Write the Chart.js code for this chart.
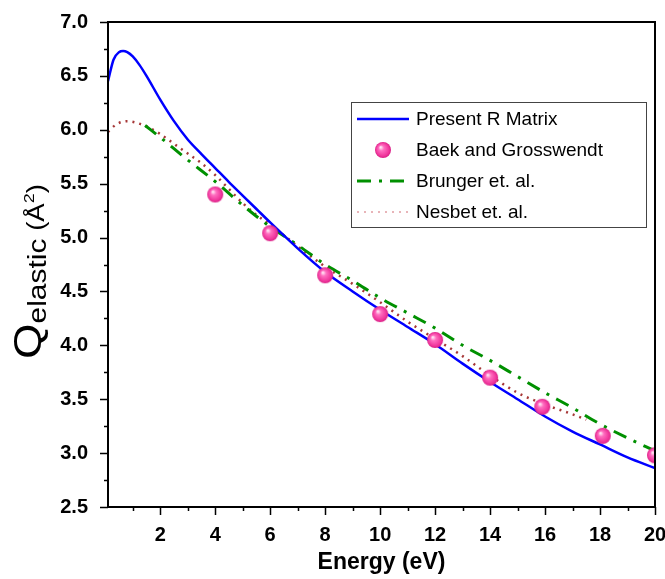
<!DOCTYPE html>
<html>
<head>
<meta charset="utf-8">
<script src="https://cdn.jsdelivr.net/npm/chart.js@4/dist/chart.umd.min.js"></script>
<style>
  body { margin: 0; background: #fff; }
  canvas { display: block; }
</style>
</head>
<body>
<canvas id="myChart" width="665" height="579"></canvas>
<script>
const ctx = document.getElementById('myChart');

// Present R Matrix (solid blue)
const rmatX = [0.1, 0.3, 0.5, 0.65, 0.8, 1.0, 1.25, 1.5, 2.0, 2.5, 3.0, 3.5, 4.0, 4.5, 5.0, 5.5, 6.0, 7, 8, 9, 10, 11, 12, 13, 14, 15, 16, 17, 18, 19, 20];
const rmatY = [6.45, 6.65, 6.72, 6.73, 6.72, 6.68, 6.6, 6.5, 6.28, 6.08, 5.91, 5.775, 5.645, 5.515, 5.39, 5.265, 5.14, 4.9, 4.68, 4.5, 4.33, 4.17, 4.01, 3.83, 3.66, 3.5, 3.34, 3.2, 3.08, 2.96, 2.86];

// Baek and Grosswendt (points)
const baekX = [4, 6, 8, 10, 12, 14, 15.9, 18.1, 20];
const baekY = [5.40, 5.04, 4.65, 4.29, 4.05, 3.70, 3.43, 3.16, 2.98];

// Brunger et. al. (dash dot)
const brungerX = [1.45, 2, 3, 4, 5, 6, 7, 8, 9, 10, 11, 12, 13, 14, 15, 16, 17, 18, 19, 20];
const brungerY = [6.04, 5.93, 5.72, 5.52, 5.3, 5.1, 4.93, 4.75, 4.6, 4.44, 4.3, 4.16, 4.0, 3.86, 3.71, 3.56, 3.42, 3.27, 3.14, 3.02];

// Nesbet et. al. (dotted)
const nesbetX = [0.1, 0.4, 0.8, 1.2, 1.6, 2.0, 2.5, 3.0, 3.5, 4.0, 4.5, 5.0, 5.5, 6, 7, 8, 9, 10, 11, 12, 13, 14, 15, 16, 17, 17.5];
const nesbetY = [5.98, 6.05, 6.08, 6.06, 6.02, 5.96, 5.87, 5.78, 5.69, 5.58, 5.45, 5.32, 5.21, 5.12, 4.92, 4.73, 4.57, 4.4, 4.22, 4.06, 3.9, 3.72, 3.56, 3.45, 3.36, 3.31];

const xTicks = [2, 4, 6, 8, 10, 12, 14, 16, 18, 20];
const yTicks = [2.5, 3.0, 3.5, 4.0, 4.5, 5.0, 5.5, 6.0, 6.5, 7.0];

function pts(xs, ys) { return xs.map((x, i) => ({ x: x, y: ys[i] })); }

// shiny pink ball
function makeBall(r) {
  const c = document.createElement('canvas');
  c.width = c.height = r * 2 + 2;
  const g = c.getContext('2d');
  const cx = r + 1, cy = r + 1;
  const grad = g.createRadialGradient(cx - r * 0.3, cy - r * 0.35, 0.5, cx, cy, r);
  grad.addColorStop(0, '#ffe6f4');
  grad.addColorStop(0.3, '#ff6ec0');
  grad.addColorStop(0.8, '#f0369c');
  grad.addColorStop(1, '#d81f85');
  g.fillStyle = grad;
  g.beginPath();
  g.arc(cx, cy, r, 0, Math.PI * 2);
  g.fill();
  return c;
}
const ball = makeBall(8);

const legendItems = [
  { label: 'Present R Matrix', kind: 'line', color: '#0000ff', dash: [] , width: 2.5},
  { label: 'Baek and Grosswendt', kind: 'ball' },
  { label: 'Brunger et. al.', kind: 'line', color: '#009000', dash: [14, 8, 3, 8], width: 3 },
  { label: 'Nesbet et. al.', kind: 'line', color: '#e8b4b8', dash: [2, 5], width: 2 }
];

const FONT = '"Liberation Sans", Arial, sans-serif';

const decor = {
  id: 'decor',
  afterDraw(chart) {
    const c = chart.ctx;
    const a = chart.chartArea;
    const xs = chart.scales.x, ys = chart.scales.y;
    c.save();
    c.strokeStyle = '#000';
    c.lineWidth = 2;
    c.strokeRect(a.left, a.top, a.right - a.left, a.bottom - a.top);
    c.lineWidth = 1.5;
    c.beginPath();
    for (let v = 1; v <= 20; v++) {
      const p = Math.round(xs.getPixelForValue(v)) + 0.5;
      const len = v % 2 === 0 ? 8 : 4;
      c.moveTo(p, a.bottom);
      c.lineTo(p, a.bottom + len);
    }
    for (let k = 0; k <= 18; k++) {
      const v = 2.5 + k * 0.25;
      const p = Math.round(ys.getPixelForValue(v)) + 0.5;
      const len = k % 2 === 0 ? 8 : 4;
      c.moveTo(a.left, p);
      c.lineTo(a.left - len, p);
    }
    c.stroke();

    // y title
    c.fillStyle = '#000';
    c.translate(41, 359);
    c.rotate(-Math.PI / 2);
    c.scale(1.2, 1);
    c.textBaseline = 'alphabetic';
    c.textAlign = 'left';
    let x = 0;
    c.font = '38px ' + FONT;
    c.fillText('Q', x, 0);
    x += c.measureText('Q').width;
    c.font = '25px ' + FONT;
    c.fillText('elastic', x, 5);
    x += c.measureText('elastic').width;
    c.font = '23px ' + FONT;
    c.fillText(' (Å', x, 3);
    x += c.measureText(' (Å').width;
    c.font = '15px ' + FONT;
    c.fillText('2', x, -7);
    x += c.measureText('2').width;
    c.font = '23px ' + FONT;
    c.fillText(')', x, 3);
    c.restore();

    // legend
    c.save();
    c.fillStyle = '#fff';
    c.fillRect(351, 102, 295, 125);
    c.strokeStyle = '#444';
    c.lineWidth = 1;
    c.strokeRect(351.5, 102.5, 295, 125);
    c.font = '19px ' + FONT;
    c.textBaseline = 'middle';
    c.fillStyle = '#000';
    legendItems.forEach((it, i) => {
      const y = 119 + i * 31;
      if (it.kind === 'ball') {
        c.drawImage(ball, 383 - ball.width / 2, y - ball.height / 2);
      } else {
        c.strokeStyle = it.color;
        c.lineWidth = it.width;
        c.setLineDash(it.dash);
        c.beginPath();
        c.moveTo(357, y);
        c.lineTo(409, y);
        c.stroke();
        c.setLineDash([]);
      }
      c.fillText(it.label, 416, y + 1);
    });
    c.restore();
  }
};

const myChart = new Chart(ctx, {
  type: 'line',
  data: {
    datasets: [
      {
        label: 'Baek and Grosswendt',
        data: pts(baekX, baekY),
        showLine: false,
        pointStyle: ball,
        order: 0
      },
      {
        label: 'Present R Matrix',
        data: pts(rmatX, rmatY),
        borderColor: '#0000ff',
        borderWidth: 2.5,
        pointRadius: 0,
        cubicInterpolationMode: 'monotone',
        order: 1
      },
      {
        label: 'Brunger et. al.',
        data: pts(brungerX, brungerY),
        borderColor: '#009000',
        borderWidth: 3,
        borderDash: [14, 8, 3, 8],
        pointRadius: 0,
        cubicInterpolationMode: 'monotone',
        order: 2
      },
      {
        label: 'Nesbet et. al.',
        data: pts(nesbetX, nesbetY),
        borderColor: 'rgba(150, 20, 20, 0.85)',
        borderWidth: 2.5,
        borderDash: [2, 5],
        pointRadius: 0,
        cubicInterpolationMode: 'monotone',
        order: 3
      }
    ]
  },
  options: {
    responsive: false,
    animation: false,
    layout: { padding: { left: 0, right: 10, top: 22, bottom: 0 } },
    plugins: { legend: { display: false }, tooltip: { enabled: false } },
    scales: {
      x: {
        type: 'linear',
        min: 0.1,
        max: 20,
        afterBuildTicks(scale) { scale.ticks = xTicks.map(v => ({ value: v })); },
        afterFit(scale) { scale.height = 72; scale.paddingRight = 0; scale.paddingLeft = 0; },
        grid: { display: false },
        border: { display: false },
        ticks: {
          padding: 8,
          color: '#000',
          font: { family: FONT, size: 20, weight: 'bold' },
          maxRotation: 0
        },
        title: {
          display: true,
          text: 'Energy (eV)',
          color: '#000',
          font: { family: FONT, size: 23, weight: 'bold' },
          padding: { top: 0, bottom: 3 }
        }
      },
      y: {
        type: 'linear',
        min: 2.5,
        max: 7.0,
        afterBuildTicks(scale) { scale.ticks = yTicks.map(v => ({ value: v })); },
        afterFit(scale) { scale.width = 108; scale.paddingTop = 0; scale.paddingBottom = 0; },
        grid: { display: false },
        border: { display: false },
        ticks: {
          padding: 12,
          color: '#000',
          callback: v => v.toFixed(1),
          font: { family: FONT, size: 20, weight: 'bold' }
        }
      }
    }
  },
  plugins: [decor]
});
</script>
</body>
</html>
